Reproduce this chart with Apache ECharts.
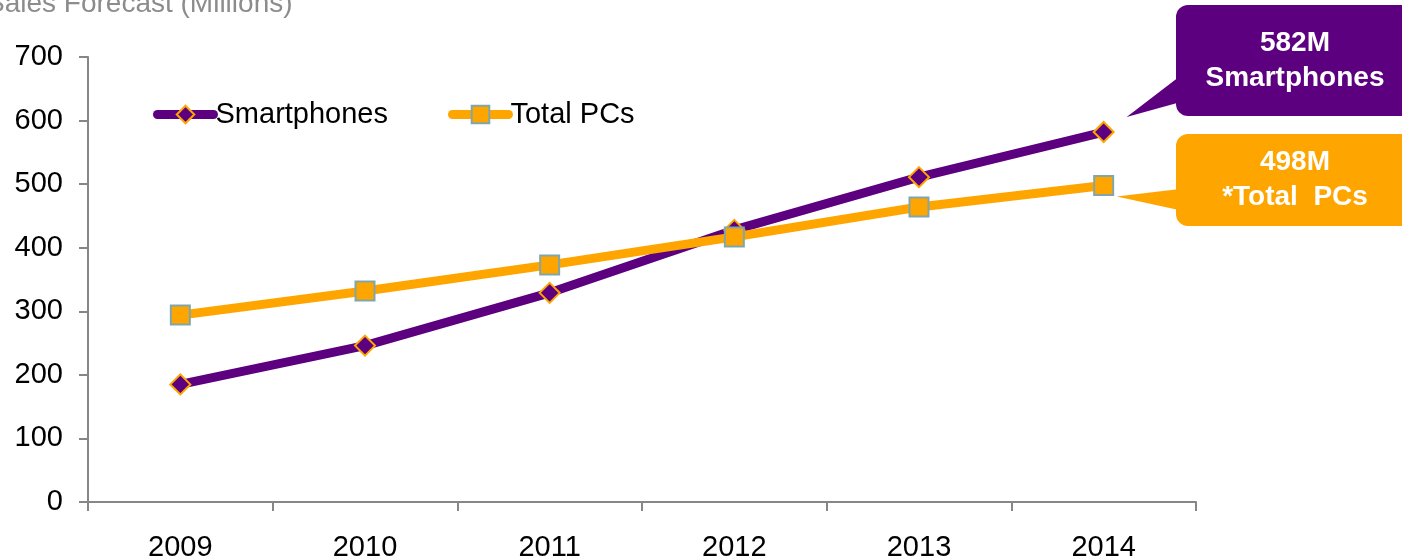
<!DOCTYPE html>
<html>
<head>
<meta charset="utf-8">
<script src="https://cdn.jsdelivr.net/npm/echarts@6/dist/echarts.min.js"></script>
<style>
  html, body { margin: 0; padding: 0; background: #fff; }
  #main { width: 1402px; height: 559px; }
</style>
</head>
<body>
<div id="main"></div>
<script>
// 年份与两条序列（单位：百万台）
const years = ['2009', '2010', '2011', '2012', '2013', '2014']
const smartphones = [185, 246, 329, 428, 511, 582]
const totalPCs = [294, 332, 373, 417, 464, 498]
const yTicks = [0, 100, 200, 300, 400, 500, 600, 700]

const purple = '#5C0080'
const orange = '#FFA500'
const font = 'Liberation Sans, Arial, sans-serif'

let myChart = echarts.init(document.getElementById('main'))

let option = {
  animation: false,
  grid: { left: 88, right: 206, top: 57, bottom: 57, outerBoundsMode: 'none' },
  legend: {
    left: 148,
    top: 95,
    itemWidth: 56,
    itemHeight: 22,
    itemGap: 60,
    lineStyle: { width: 9, cap: 'round' },
    textStyle: { fontFamily: font, fontSize: 29, color: '#000', padding: [0, 0, 0, -3] },
    data: ['Smartphones', 'Total PCs']
  },
  xAxis: {
    type: 'category',
    data: years,
    axisLine: { lineStyle: { color: '#868686', width: 2 } },
    axisTick: { show: true, length: 9, lineStyle: { color: '#868686', width: 2 } },
    axisLabel: { color: '#000', fontSize: 29, fontFamily: font, margin: 31 }
  },
  yAxis: {
    type: 'value',
    min: yTicks[0],
    max: yTicks[yTicks.length - 1],
    interval: 100,
    splitLine: { show: false },
    axisLine: { show: true, lineStyle: { color: '#868686', width: 2 } },
    axisTick: { show: true, length: 9, lineStyle: { color: '#868686', width: 2 } },
    axisLabel: { color: '#000', fontSize: 29, fontFamily: font, margin: 25 }
  },
  series: [
    {
      name: 'Smartphones',
      type: 'line',
      data: smartphones,
      symbol: 'diamond',
      symbolSize: 20,
      z: 3,
      lineStyle: { color: purple, width: 9 },
      itemStyle: { color: purple, borderColor: orange, borderWidth: 2 }
    },
    {
      name: 'Total PCs',
      type: 'line',
      data: totalPCs,
      symbol: 'rect',
      symbolSize: 19,
      z: 4,
      lineStyle: { color: orange, width: 9 },
      itemStyle: { color: orange, borderColor: '#7FA7AB', borderWidth: 2 }
    }
  ]
}
myChart.setOption(option)

// 右侧标注气泡，尖角指向最后一个数据点
function bubble (tip, box, y1, y2, color, text) {
  return {
    type: 'group',
    children: [
      {
        type: 'polygon',
        shape: { points: [tip, [box.x + 12, y1], [box.x + 12, y2]] },
        style: { fill: color }
      },
      {
        type: 'rect',
        shape: { x: box.x, y: box.y, width: box.w, height: box.h, r: 12 },
        style: { fill: color }
      },
      {
        type: 'text',
        x: box.x + 119,
        y: box.y + box.h / 2,
        style: {
          text: text,
          fill: '#fff',
          font: 'bold 28px ' + font,
          align: 'center',
          verticalAlign: 'middle',
          lineHeight: 35
        }
      }
    ]
  }
}

const last = years.length - 1
const pPhone = myChart.convertToPixel({ seriesIndex: 0 }, [last, smartphones[last]])
const pPC = myChart.convertToPixel({ seriesIndex: 1 }, [last, totalPCs[last]])

myChart.setOption({
  graphic: [
    {
      type: 'text',
      left: -14,
      top: -10,
      style: { text: 'Sales Forecast (Millions)', fill: '#8C8C8C', font: '28px ' + font }
    },
    bubble([pPhone[0] + 23, pPhone[1] - 15], { x: 1176, y: 5, w: 240, h: 111 }, 70, 100, purple, '582M\nSmartphones'),
    bubble([pPC[0] + 13, pPC[1] + 11], { x: 1176, y: 134, w: 240, h: 92 }, 188, 212, orange, '498M\n*Total  PCs')
  ]
})
</script>
</body>
</html>
